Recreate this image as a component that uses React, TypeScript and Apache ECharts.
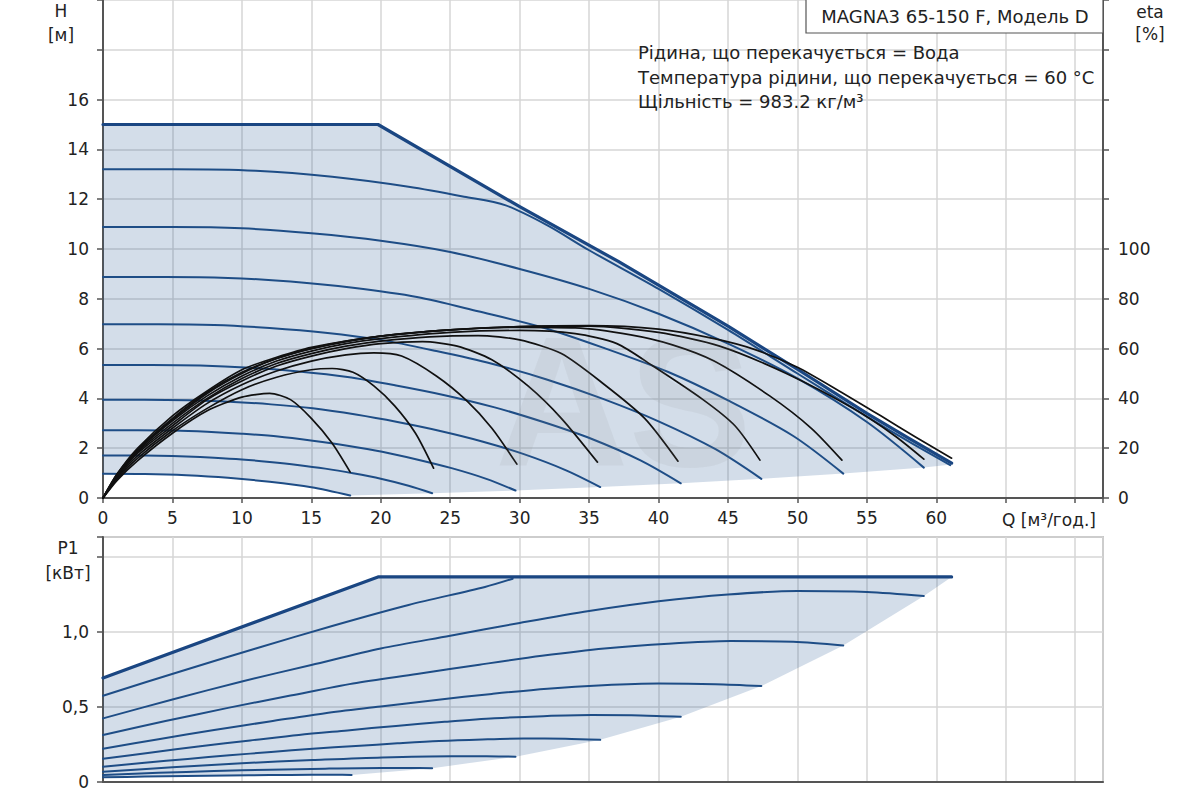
import React, { useEffect, useRef } from "react";
import * as echarts from "echarts";

// ---------- axis settings ----------
const Q_MAX = 72;
const H_AXIS_MAX = 20;
const ETA_AXIS_MAX = 200;
const P_AXIS_MAX = 1.633;

// ---------- H (head) curves [Q, H] ----------
const H_MAX = [[0, 15], [19.8, 15], [30, 11.7], [37.1, 9.5], [45, 6.9], [50.2, 5.1], [55, 3.4], [58, 2.4], [61.1, 1.4]];
const H_132 = [[0, 13.2], [5, 13.2], [11, 13.14], [16.5, 12.9], [22, 12.5], [26, 12.1], [29, 11.75], [32, 10.95], [35, 9.95], [40, 8.4], [45, 6.75], [50, 5.0], [55, 3.27], [58, 2.27], [61, 1.32]];
const H_109 = [[0, 10.88], [5, 10.88], [10, 10.83], [15, 10.63], [20, 10.33], [25, 9.88], [30, 9.2], [35, 8.4], [40, 7.4], [45, 6.2], [50, 4.8], [55, 3.05], [59.1, 1.22]];
const H_089 = [[0, 8.88], [4.5, 8.88], [9, 8.84], [13.5, 8.69], [18, 8.44], [22.6, 8.07], [27, 7.5], [31.6, 6.86], [36, 6.04], [40.7, 5.06], [45, 3.92], [49.7, 2.49], [53.3, 0.98]];
const H_070 = [[0, 6.98], [4, 6.98], [8, 6.95], [12, 6.83], [16, 6.64], [20, 6.35], [24, 5.9], [28, 5.39], [32, 4.75], [36, 3.98], [40, 3.08], [44.1, 1.96], [47.4, 0.77]];
const H_054 = [[0, 5.34], [3.5, 5.34], [7, 5.32], [10.6, 5.23], [14.1, 5.08], [17.6, 4.86], [21.1, 4.52], [24.6, 4.13], [28.2, 3.64], [31.7, 3.05], [35.2, 2.37], [38.7, 1.51], [41.6, 0.59]];
const H_040 = [[0, 3.95], [3, 3.95], [6.1, 3.93], [9.1, 3.87], [12.1, 3.76], [15.1, 3.6], [18.2, 3.35], [21.2, 3.05], [24.2, 2.7], [27.3, 2.27], [30.3, 1.76], [33.3, 1.12], [35.8, 0.44]];
const H_0275 = [[0, 2.72], [2.5, 2.72], [5, 2.71], [7.5, 2.66], [10, 2.58], [12.6, 2.47], [15.1, 2.3], [17.6, 2.1], [20.1, 1.86], [22.6, 1.55], [25.1, 1.2], [27.6, 0.77], [29.7, 0.3]];
const H_0175 = [[0, 1.71], [2, 1.71], [4, 1.7], [6, 1.67], [8, 1.62], [10, 1.55], [12, 1.45], [14, 1.33], [16, 1.18], [18, 0.99], [20, 0.77], [22, 0.49], [23.7, 0.19]];
const H_010 = [[0, 0.97], [3, 0.96], [6, 0.91], [9, 0.81], [12, 0.65], [15, 0.43], [17.8, 0.1]];
const H_LOWER = [[17.8, 0.1], [23.7, 0.19], [29.7, 0.3], [35.8, 0.44], [41.6, 0.59], [47.4, 0.77], [53.3, 0.98], [59.1, 1.22], [61.1, 1.35]];
const H_SPEEDS = [H_132, H_109, H_089, H_070, H_054, H_040, H_0275, H_0175, H_010];

// ---------- eta (efficiency) curves [Q, %] ----------
const ETA_1 = [[0, 0], [1, 7], [2.5, 15], [5, 26], [7.5, 35], [10, 40.5], [12, 42], [13.5, 39.5], [15, 32], [16.5, 22], [17.8, 10.4]];
const ETA_2 = [[0, 0], [1, 7.5], [2.5, 16], [5, 27], [7.5, 36], [10, 43.5], [12.5, 48.5], [15, 51.5], [16.5, 52], [18, 50.5], [19.5, 45], [21, 37], [22.5, 26], [23.8, 12]];
const ETA_3 = [[0, 0], [1, 8], [2.5, 17], [5, 28], [7.5, 38], [10, 45.5], [12.5, 51], [15, 55], [17.5, 57.5], [19.5, 58.3], [21.5, 57], [24, 49], [26.2, 39], [28, 28], [29.8, 13.6]];
const ETA_4 = [[0, 0], [1, 8.5], [2.5, 18], [5, 29], [7.5, 39.5], [10, 47], [12.5, 53], [15, 57], [17.5, 60], [20, 62], [23, 62.8], [25.5, 61], [28, 55.5], [30.6, 45], [33, 32], [35.6, 14.4]];
const ETA_5 = [[0, 0], [1, 8.5], [2.5, 18.5], [5, 30], [7.5, 40], [10, 48], [12.5, 54], [15, 58], [17.5, 61], [20, 63], [23.5, 64.7], [27, 65.2], [30, 63.5], [33, 58], [36, 46], [39, 32], [41.4, 14.8]];
const ETA_6 = [[0, 0], [1, 9], [2.5, 19], [5, 31], [7.5, 41], [10, 49], [12.5, 55], [15, 59], [17.5, 62], [20, 64], [25, 66.5], [30, 67.3], [34, 66], [37, 62], [39.6, 53], [43.2, 39.5], [45.5, 29], [47.3, 15.2]];
const ETA_7 = [[0, 0], [1, 9], [2.5, 19.5], [5, 31.5], [7.5, 42], [10, 50], [12.5, 56], [15, 60], [17.5, 63], [20, 65], [25, 67.5], [30, 68.5], [34, 68.3], [38, 65.5], [41, 61.5], [44, 55], [48, 41], [51, 28], [53.2, 15.2]];
const ETA_8 = [[0, 0], [1, 9.5], [2.5, 19.5], [5, 32], [7.5, 42.5], [10, 50.5], [12.5, 56], [15, 60], [20, 65], [25, 67.5], [30, 68.8], [35, 69], [40, 66.5], [44.4, 61], [49.2, 50], [54, 36], [57, 25], [59.1, 15.6]];
const ETA_9 = [[0, 0], [1, 9.5], [2.5, 20], [5, 33], [7.5, 43], [10, 51.5], [12.5, 56.5], [15, 60.5], [20, 65], [25, 67.5], [30, 68.8], [35, 69.2], [40, 67.8], [44, 64], [47, 59.5], [50, 52.5], [53, 43], [56, 33], [58.5, 24.5], [61.1, 16]];
const ETA_CURVES = [ETA_1, ETA_2, ETA_3, ETA_4, ETA_5, ETA_6, ETA_7, ETA_8, ETA_9];

// ---------- P1 (power) curves [Q, kW] ----------
const P_MAX = [[0, 0.693], [19.8, 1.367], [61.1, 1.367]];
const P_132 = [[0, 0.575], [5.5, 0.735], [11, 0.89], [16.5, 1.04], [22, 1.18], [27.5, 1.3], [29.5, 1.355]];
const P_109 = [[0, 0.424], [5, 0.55], [10, 0.67], [15, 0.78], [20, 0.89], [25, 0.975], [30, 1.06], [35, 1.14], [40, 1.205], [45, 1.25], [50, 1.273], [55, 1.267], [59.1, 1.24]];
const P_089 = [[0, 0.313], [4.5, 0.406], [9, 0.494], [13.5, 0.576], [18, 0.657], [22.6, 0.72], [27.1, 0.782], [31.6, 0.841], [36.1, 0.89], [40.7, 0.922], [45.2, 0.939], [49.7, 0.935], [53.3, 0.91]];
const P_070 = [[0, 0.222], [4, 0.285], [8, 0.347], [12, 0.403], [16, 0.459], [20, 0.503], [24, 0.547], [28, 0.587], [32, 0.622], [36, 0.645], [40, 0.656], [44.1, 0.652], [47.4, 0.64]];
const P_054 = [[0, 0.155], [3.5, 0.197], [7, 0.239], [10.6, 0.277], [14.1, 0.314], [17.6, 0.344], [21.1, 0.374], [24.6, 0.401], [28.2, 0.425], [31.7, 0.439], [35.2, 0.446], [38.7, 0.444], [41.6, 0.435]];
const P_040 = [[0, 0.102], [3, 0.128], [6.1, 0.154], [9.1, 0.178], [12.1, 0.2], [15.1, 0.222], [18.2, 0.24], [21.2, 0.258], [24.2, 0.274], [27.3, 0.284], [30.3, 0.29], [33.3, 0.288], [35.8, 0.281]];
const P_0275 = [[0, 0.068], [5, 0.098], [10, 0.125], [15.1, 0.146], [20.1, 0.164], [25.1, 0.172], [27.6, 0.171], [29.7, 0.169]];
const P_0175 = [[0, 0.047], [4, 0.061], [8, 0.073], [12, 0.082], [16, 0.089], [20, 0.093], [22, 0.093], [23.7, 0.092]];
const P_010 = [[0, 0.031], [3, 0.036], [6, 0.04], [9, 0.044], [12, 0.046], [15, 0.048], [16.7, 0.048], [17.9, 0.047]];
const P_LOWER = [[17.9, 0.047], [23.7, 0.092], [29.7, 0.169], [35.8, 0.281], [41.6, 0.435], [47.4, 0.64], [53.3, 0.91], [59.1, 1.24], [61.1, 1.367]];
const P_SPEEDS = [P_132, P_109, P_089, P_070, P_054, P_040, P_0275, P_0175, P_010];

// ---------- texts ----------
const TITLE_BOX = "MAGNA3 65-150 F, Модель D";
const INFO_LINES = [
  "Рідина, що перекачується = Вода",
  "Температура рідини, що перекачується = 60 °C",
  "Щільність = 983.2 кг/м³",
];

const FONT = '"DejaVu Sans", "Liberation Sans", Arial, sans-serif';
const TEXT_COLOR = "#222";
const AXIS_COLOR = "#555";
const GRID_COLOR = "#d6d6d6";
const BLUE = "#1e4d86";
const BLUE_MAX = "#1a4682";
const SHADE = "rgba(35,85,145,0.2)";

function fmtNum(v: number, max: number, comma: boolean) {
  if (v > max + 1e-9) return "";
  const r = Math.round(v * 10) / 10;
  if (Math.abs(r - v) > 1e-6) return "";
  if (!comma) return String(r);
  if (r === 0) return "0";
  return r.toFixed(1).replace(".", ",");
}

function polygonSeries(points: number[][], xi: number, yi: number) {
  return {
    type: "custom",
    xAxisIndex: xi,
    yAxisIndex: yi,
    silent: true,
    z: 1,
    data: [[0, 0]],
    renderItem: (_params: any, api: any) => {
      const pts = points.map((p) => api.coord(p));
      return {
        type: "polygon",
        shape: { points: pts },
        style: { fill: SHADE },
      };
    },
  };
}

function lineSeries(data: number[][], xi: number, yi: number, color: string, width: number, smooth: boolean | number, z = 3) {
  return {
    type: "line",
    xAxisIndex: xi,
    yAxisIndex: yi,
    data,
    showSymbol: false,
    symbol: "none",
    smooth,
    silent: true,
    z,
    lineStyle: { color, width, cap: "round", join: "round" },
  };
}

function text(x: number, y: number, str: string, size: number, align = "center", z = 100) {
  return {
    type: "text",
    x,
    y,
    z,
    silent: true,
    style: {
      text: str,
      fill: TEXT_COLOR,
      font: `${size}px ${FONT}`,
      textAlign: align,
      align,
      textVerticalAlign: "middle",
      verticalAlign: "middle",
    },
  };
}

export default function App() {
  const ref = useRef<HTMLDivElement>(null);

  useEffect(() => {
    document.body.style.margin = "0";
    if (!ref.current) return;
    const chart = echarts.init(ref.current, undefined, { renderer: "svg" });

    const topShade = [...H_MAX, ...H_LOWER.slice().reverse(), ...H_010.slice().reverse()];
    const botShade = [...P_MAX, ...P_LOWER.slice().reverse(), ...P_010.slice().reverse()];

    const axisLine = { show: true, onZero: false, lineStyle: { color: AXIS_COLOR, width: 2 } };
    const splitLine = { show: true, lineStyle: { color: GRID_COLOR, width: 1.5 } };
    const labelStyle = { color: TEXT_COLOR, fontSize: 17, fontFamily: FONT };

    const option: any = {
      animation: false,
      backgroundColor: "#fff",
      textStyle: { fontFamily: FONT },
      grid: [
        { left: 103, top: -1, width: 1000, height: 499 },
        { left: 103, top: 537, width: 1000, height: 245, show: true, borderColor: "#9a9a9a", borderWidth: 1.5, backgroundColor: "transparent" },
      ],
      xAxis: [
        {
          gridIndex: 0, type: "value", min: 0, max: Q_MAX, interval: 5,
          axisLine, axisTick: { show: true, length: 5, lineStyle: { color: AXIS_COLOR, width: 1.5 } },
          axisLabel: { ...labelStyle, margin: 11, formatter: (v: number) => fmtNum(v, 60, false) },
          splitLine,
        },
        {
          gridIndex: 1, type: "value", min: 0, max: Q_MAX, interval: 5,
          axisLine, axisTick: { show: false }, axisLabel: { show: false }, splitLine,
        },
      ],
      yAxis: [
        {
          gridIndex: 0, type: "value", min: 0, max: H_AXIS_MAX, interval: 2, position: "left",
          axisLine, axisTick: { show: true, length: 6, lineStyle: { color: AXIS_COLOR, width: 1.5 } },
          axisLabel: { ...labelStyle, margin: 14, formatter: (v: number) => fmtNum(v, 16, false) },
          splitLine,
        },
        {
          gridIndex: 0, type: "value", min: 0, max: ETA_AXIS_MAX, interval: 20, position: "right",
          axisLine, axisTick: { show: true, length: 6, lineStyle: { color: AXIS_COLOR, width: 1.5 } },
          axisLabel: { ...labelStyle, margin: 15, formatter: (v: number) => fmtNum(v, 100, false) },
          splitLine: { show: false },
        },
        {
          gridIndex: 1, type: "value", min: 0, max: P_AXIS_MAX, interval: 0.5, position: "left",
          axisLine, axisTick: { show: true, length: 6, lineStyle: { color: AXIS_COLOR, width: 1.5 } },
          axisLabel: { ...labelStyle, margin: 14, formatter: (v: number) => fmtNum(v, 1.0, true) },
          splitLine,
        },
      ],
      series: [
        polygonSeries(topShade, 0, 0),
        polygonSeries(botShade, 1, 2),
        ...H_SPEEDS.map((d) => lineSeries(d, 0, 0, BLUE, 2, 0.3)),
        lineSeries(H_MAX, 0, 0, BLUE_MAX, 3.2, false, 4),
        ...ETA_CURVES.map((d) => lineSeries(d, 0, 1, "#111", 1.7, 0.25, 5)),
        ...P_SPEEDS.map((d) => lineSeries(d, 1, 2, BLUE, 2, 0.3)),
        lineSeries(P_MAX, 1, 2, BLUE_MAX, 3.2, false, 4),
      ],
      graphic: [
        {
          type: "text", x: 495, y: 402, z: 50, silent: true,
          style: {
            text: "AS", fill: "rgba(140,140,140,0.1)", font: `bold 185px "Liberation Sans", Arial, sans-serif`,
            textAlign: "left", align: "left", textVerticalAlign: "middle", verticalAlign: "middle",
          },
        },
        { type: "rect", z: 99, silent: true, shape: { x: 806, y: -2, width: 297, height: 35 }, style: { fill: "#fff", stroke: "#555", lineWidth: 1.2 } },
        text(955, 16, TITLE_BOX, 18),
        text(638, 52, INFO_LINES[0], 18, "left"),
        text(638, 77, INFO_LINES[1], 18, "left"),
        text(638, 101, INFO_LINES[2], 18, "left"),
        text(61, 11, "H", 17),
        text(61, 35, "[м]", 17),
        text(1150, 12, "eta", 17),
        text(1150, 34, "[%]", 17),
        text(68, 548, "P1", 17),
        text(68, 573, "[кВт]", 17),
        text(1096, 520, "Q [м³/год.]", 17, "right"),
      ],
    };

    chart.setOption(option);
    return () => chart.dispose();
  }, []);

  return <div ref={ref} style={{ position: "absolute", left: 0, top: 0, width: 1200, height: 800 }} />;
}
